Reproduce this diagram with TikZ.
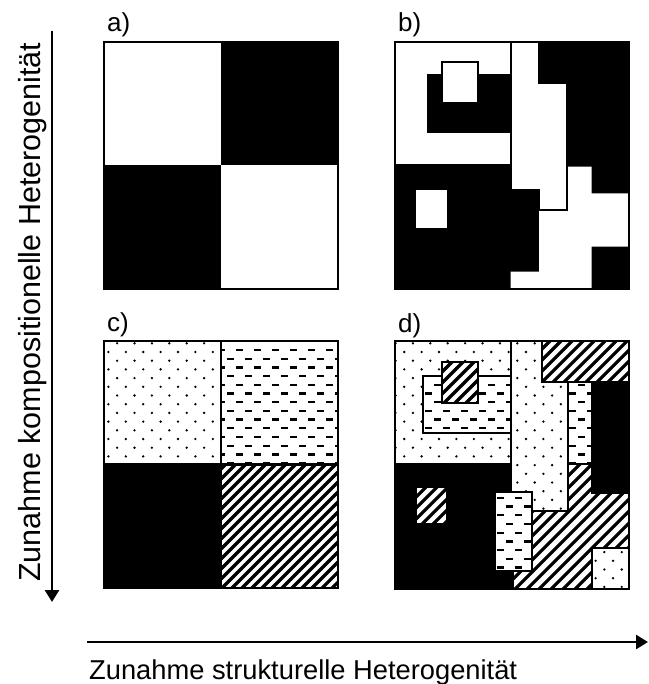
\documentclass[tikz,border=0pt]{standalone}
\usepackage{fontspec}
\setmainfont{Liberation Sans}
\usetikzlibrary{arrows.meta}

\tikzset{
  frame/.style={draw=black, line width=2.5pt},
  outl/.style={draw=black, line width=2.2pt},
  axisarrow/.style={line width=2.6pt, -{Triangle[length=12pt,width=14pt]}},
  lbl/.style={font=\fontsize{26}{30}\selectfont, anchor=base west, inner sep=0pt},
  axistext/.style={inner sep=0pt, anchor=base west},
}

% dotted area: x0 y0 x1 y1 path
\newcommand{\PDots}[5]{%
  \begin{scope}
    \clip #5;
    \fill[white] (#1,#2) rectangle (#3,#4);
    \pgfmathtruncatemacro{\ka}{floor(#2/8.7)-1}
    \pgfmathtruncatemacro{\kb}{ceil(#4/8.7)}
    \pgfmathtruncatemacro{\ja}{floor(#1/17.4)-1}
    \pgfmathtruncatemacro{\jb}{ceil(#3/17.4)}
    \foreach \k in {\ka,...,\kb}{
      \foreach \j in {\ja,...,\jb}{
        \pgfmathsetmacro{\xx}{\j*17.4+mod(\k,2)*8.7+4}
        \pgfmathsetmacro{\yy}{\k*8.7+4}
        \fill (\xx,\yy) circle (1.3pt);
      }
    }
  \end{scope}
  \draw[outl] #5;}

% dashed area: x0 y0 x1 y1 path
\newcommand{\PDash}[5]{%
  \begin{scope}
    \clip #5;
    \fill[white] (#1,#2) rectangle (#3,#4);
    \pgfmathtruncatemacro{\ka}{floor(#2/8.7)-1}
    \pgfmathtruncatemacro{\kb}{ceil(#4/8.7)}
    \pgfmathtruncatemacro{\ja}{floor(#1/18)-1}
    \pgfmathtruncatemacro{\jb}{ceil(#3/18)}
    \foreach \k in {\ka,...,\kb}{
      \foreach \j in {\ja,...,\jb}{
        \pgfmathsetmacro{\xx}{\j*18+mod(\k,2)*9+2}
        \pgfmathsetmacro{\yy}{\k*8.7+2}
        \draw[line width=2.3pt] (\xx,\yy) -- ++(7,0);
      }
    }
  \end{scope}
  \draw[outl] #5;}

% hatched area: x0 y0 x1 y1 path spacing
\newcommand{\PHatch}[6]{%
  \begin{scope}
    \clip #5;
    \fill[white] (#1,#2) rectangle (#3,#4);
    \pgfmathtruncatemacro{\na}{floor((#1+#2)/#6)-1}
    \pgfmathtruncatemacro{\nb}{ceil((#3+#4)/#6)+1}
    \foreach \n in {\na,...,\nb}{
      \draw[line width=3.2pt] ({\n*#6-#4-5},#4+5) -- ({\n*#6-#2+5},#2-5);
    }
  \end{scope}
  \draw[outl] #5;}

\begin{document}
\begin{tikzpicture}[x=1pt,y=-1pt]
\useasboundingbox (0,0) rectangle (648,684);

% ---------- panel a ----------
\fill (221,42) rectangle (338,165.5);
\fill (104,165.5) rectangle (221,289);
\draw[frame] (104,42) rectangle (338,289);
\node[lbl] (la) at (107,32) {a)};

% ---------- panel b ----------
\fill (395,42) rectangle (629,289);
\filldraw[fill=white,outl] (395,42) rectangle (510.7,165.5);
\fill (427,74) rectangle (510.7,133);
\filldraw[fill=white,outl] (442,62) rectangle (478,103);
\fill[white] (415.7,190) rectangle (447.3,227.7);
\fill[white] (568,166.7) -- (591.7,166.7) -- (591.7,193.3) -- (629,193.3)
  -- (629,246.7) -- (591.7,246.7) -- (591.7,289) -- (510.7,289)
  -- (510.7,271.7) -- (539,271.7) -- (539,210) -- (568,210) -- cycle;
\filldraw[fill=white,outl] (510.7,42) -- (539,42) -- (539,83.3) -- (566.7,83.3)
  -- (566.7,210) -- (539,210) -- (539,190) -- (510.7,190) -- cycle;
\draw[frame] (395,42) rectangle (629,289);
\node[lbl] (lb) at (398,32) {b)};

% ---------- panel c ----------
\PDots{104}{341}{221}{464.5}{(104,341) rectangle (221,464.5)}
\PDash{221}{341}{338}{464.5}{(221,341) rectangle (338,464.5)}
\fill (104,464.5) rectangle (221,588);
\PHatch{221}{464.5}{338}{588}{(221,464.5) rectangle (338,588)}{10}
\draw[frame] (104,341) rectangle (338,588);
\node[lbl] (lc) at (107,331) {c)};

% ---------- panel d ----------
\fill (395,341) rectangle (629,589);
\PDots{395}{341}{510.7}{464}{(395,341) rectangle (510.7,464)}
\PDash{423.3}{376}{510.7}{433.3}{(423.3,376) rectangle (510.7,433.3)}
\PHatch{441.7}{361.7}{478.3}{402.7}{(441.7,361.7) rectangle (478.3,402.7)}{11}
\PHatch{415.7}{486.7}{447.3}{524.3}{(415.7,486.7) rectangle (447.3,524.3)}{11}
\PHatch{513.3}{464}{629}{589}{(568.3,464) -- (591.7,464) -- (591.7,493.3) -- (629,493.3)
  -- (629,589) -- (513.3,589) -- (513.3,570.7) -- (531.7,570.7)
  -- (531.7,510.7) -- (568.3,510.7) -- cycle}{12}
\PDots{510.7}{341}{568.3}{510.7}{(510.7,341) -- (541.7,341) -- (541.7,381.7) -- (568.3,381.7)
  -- (568.3,510.7) -- (510.7,510.7) -- cycle}
\PHatch{541.7}{341}{629}{381.7}{(541.7,341) rectangle (629,381.7)}{11}
\PDash{568.3}{381.7}{591.7}{464}{(568.3,381.7) rectangle (591.7,464)}
\PDash{495}{491.7}{531.7}{570.7}{(495,491.7) rectangle (531.7,570.7)}
\PDots{591.7}{548.3}{629}{589}{(591.7,548.3) rectangle (629,589)}
\draw[frame] (395,341) rectangle (629,589);
\node[lbl] (ld) at (398,332) {d)};

% ---------- axes ----------
\coordinate (vtop) at (52,31);
\coordinate (vbot) at (52,602);
\coordinate (hleft) at (87,642);
\coordinate (hright) at (648,642);
\draw[axisarrow] (vtop) -- (vbot);
\draw[axisarrow] (hleft) -- (hright);
\node[axistext, rotate=90, font=\fontsize{30.5}{36}\selectfont] (ty) at (40,582)
  {Zunahme kompositionelle Heterogenität};
\node[axistext, font=\fontsize{27.3}{32}\selectfont] (tx) at (89,679)
  {Zunahme strukturelle Heterogenität};
\end{tikzpicture}
\end{document}
